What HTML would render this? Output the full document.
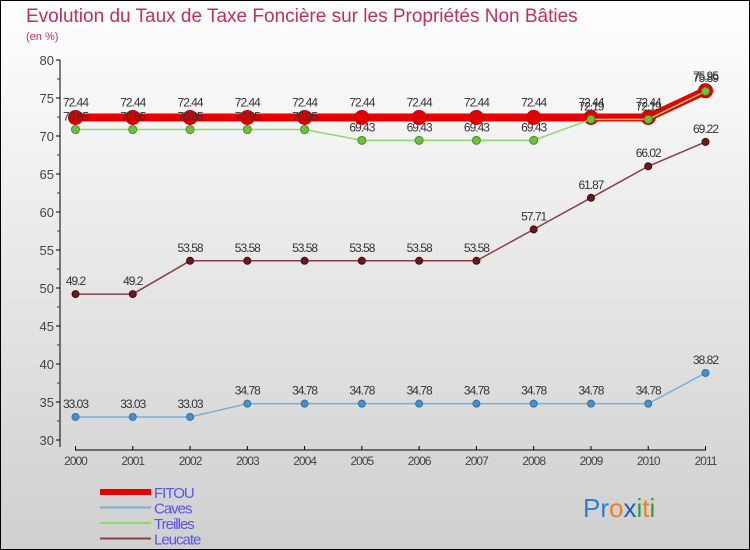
<!DOCTYPE html>
<html><head><meta charset="utf-8"><style>
body{margin:0}
#c{width:750px;height:550px;position:relative;overflow:hidden;box-sizing:border-box;border:1px solid #000;background:linear-gradient(#ffffff,#cfcfcf);font-family:"Liberation Sans",sans-serif}
</style></head><body>
<div id="c">
<svg id="s" width="750" height="550" xmlns="http://www.w3.org/2000/svg" style="position:absolute;left:-1px;top:-1px">
<text x="26" y="22" font-size="19" fill="#c0305a">Evolution du Taux de Taxe Foncière sur les Propriétés Non Bâties</text>
<text x="26" y="40" font-size="11" fill="#c0305a">(en %)</text>
</svg>
</div>
<script>
const years=["2000","2001","2002","2003","2004","2005","2006","2007","2008","2009","2010","2011"];
const yTicks=[30,35,40,45,50,55,60,65,70,75,80];
const fitou=[72.44,72.44,72.44,72.44,72.44,72.44,72.44,72.44,72.44,72.44,72.44,75.95];
const caves=[33.03,33.03,33.03,34.78,34.78,34.78,34.78,34.78,34.78,34.78,34.78,38.82];
const treilles=[70.85,70.85,70.85,70.85,70.85,69.43,69.43,69.43,69.43,72.19,72.19,75.89];
const leucate=[49.2,49.2,53.58,53.58,53.58,53.58,53.58,53.58,57.71,61.87,66.02,69.22];
const s=document.getElementById('s');const NS="http://www.w3.org/2000/svg";
const X=i=>75.5+i*(705.5-75.5)/11;
const Y=v=>440-(v-30)*7.6;
function el(t,a,p){const e=document.createElementNS(NS,t);for(const k in a)e.setAttribute(k,a[k]);(p||s).appendChild(e);return e;}
let e=el('line',{x1:60,y1:60,x2:60,y2:447,stroke:'#000'});


e=el('line',{x1:75,y1:450,x2:706,y2:450,stroke:'#000'});


yTicks.forEach(v=>{
 el('line',{x1:56,x2:60,y1:Y(v),y2:Y(v),stroke:'#000'});
 if(v<80)el('line',{x1:57,x2:60,y1:Y(v+2.5),y2:Y(v+2.5),stroke:'#c00'});
 const t=el('text',{x:54,y:Y(v)+5,'text-anchor':'end','font-size':13,fill:'#444'});t.textContent=v;
 
 
});
years.forEach((y,i)=>{
 el('line',{x1:X(i),x2:X(i),y1:446,y2:450,stroke:'#000'});
 const t=el('text',{x:X(i),y:465,'text-anchor':'middle','font-size':12,fill:'#444','letter-spacing':'-1'});t.textContent=y;
 
 
});
function series(name,d,col,w,r,dot,dotStroke,labelDy){
 const g=el('g',{});
 
 
 el('polyline',{points:d.map((v,i)=>X(i)+','+Y(v)).join(' '),fill:'none',stroke:col,'stroke-width':w},g);
 d.forEach((v,i)=>{
  const c=el('circle',{cx:X(i),cy:Y(v),r:r,fill:dot,stroke:dotStroke,'stroke-width':1},g);
  
  
  const t=el('text',{x:X(i),y:Y(v)+labelDy,'text-anchor':'middle','font-size':12,fill:'#333','letter-spacing':'-1'},g);t.textContent=v;
  
  
 });
}
series('caves',caves,'#7ab0d8',1.5,3.5,'#4a90c8','#2a70a8',-9);
series('leucate',leucate,'#8a4040',1.5,3.5,'#6a1a1a','#4a0a0a',-9);
series('fitou',fitou,'#e80000',8,7,'#e00000','#c00000',-11);
series('treilles',treilles,'#90d870',1.5,4,'#70c040','#409020',-9);
const leg=[['FITOU','#e80000',6],['Caves','#7ab0d8',2],['Treilles','#90d870',2],['Leucate','#8a4040',2]];
leg.forEach((l,i)=>{
 const y=492+i*15.5;
 el('line',{x1:100,x2:151,y1:y,y2:y,stroke:l[1],'stroke-width':l[2]});
 const t=el('text',{x:154,y:y+6,'font-size':15,fill:'#5555ee','letter-spacing':'-1'});t.textContent=l[0];
 
 
});
const lg=el('text',{x:583,y:517,'font-size':26});


[['Pr','#2a80d0'],['o','#f08020'],['x','#1a60c0'],['i','#30a030'],['t','#f08020'],['i','#30a030']].forEach(p=>{const ts=el('tspan',{fill:p[1]},lg);ts.textContent=p[0];});
</script>
</body></html>
